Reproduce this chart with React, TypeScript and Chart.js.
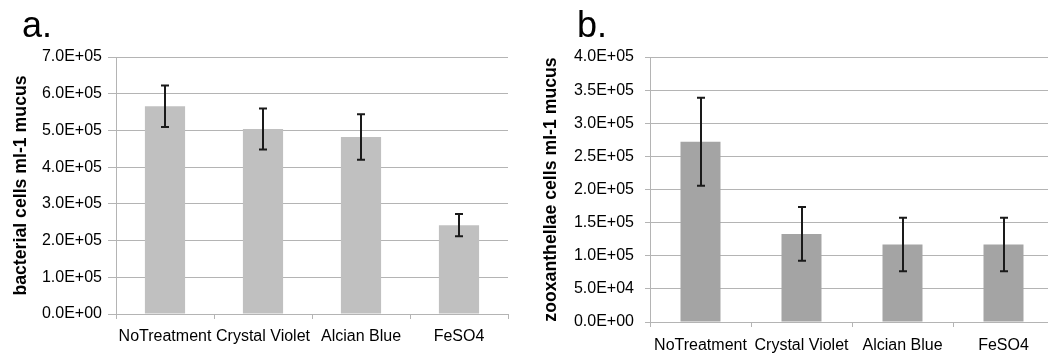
import React, { useEffect, useRef } from "react";
import { Chart, registerables } from "chart.js";

Chart.register(...registerables);

const categories = ["NoTreatment", "Crystal Violet", "Alcian Blue", "FeSO4"];
const bacteriaMeans = [566000, 504000, 482000, 242000];
const bacteriaErrors = [56500, 56000, 62000, 30500];
const zooxMeans = [272000, 133000, 117000, 117000];
const zooxErrors = [66500, 40500, 40500, 40500];

const bacteriaTicks = { max: 700000, step: 100000 };
const zooxTicks = { max: 400000, step: 50000 };

const FONT = "'Liberation Sans', Arial, Helvetica, sans-serif";
const GRID = "#b4b4b4";

function sci(v: number): string {
  if (v === 0) return "0.0E+00";
  const exp = Math.floor(Math.log10(Math.abs(v)) + 1e-9);
  const m = v / Math.pow(10, exp);
  const e = Math.abs(exp).toString().padStart(2, "0");
  return m.toFixed(1) + "E" + (exp >= 0 ? "+" : "-") + e;
}

function errorBarPlugin(errors: number[]) {
  return {
    id: "errbars",
    afterDatasetsDraw(chart: any) {
      const meta = chart.getDatasetMeta(0);
      const ys = chart.scales.y;
      const ctx = chart.ctx;
      const vals = chart.data.datasets[0].data as number[];
      ctx.save();
      ctx.strokeStyle = "#1a1a1a";
      ctx.lineWidth = 2;
      meta.data.forEach((bar: any, i: number) => {
        const x = Math.round(bar.x);
        const top = ys.getPixelForValue(vals[i] + errors[i]);
        const bot = ys.getPixelForValue(vals[i] - errors[i]);
        ctx.beginPath();
        ctx.moveTo(x, top);
        ctx.lineTo(x, bot);
        ctx.moveTo(x - 4, top);
        ctx.lineTo(x + 4, top);
        ctx.moveTo(x - 4, bot);
        ctx.lineTo(x + 4, bot);
        ctx.stroke();
      });
      ctx.restore();
    },
  };
}

function labelPlugin(text: string, x: number, y: number) {
  return {
    id: "panellabel",
    afterDraw(chart: any) {
      const ctx = chart.ctx;
      ctx.save();
      ctx.fillStyle = "#000";
      ctx.font = `36px ${FONT}`;
      ctx.textBaseline = "alphabetic";
      ctx.textAlign = "left";
      ctx.fillText(text, x, y);
      ctx.restore();
    },
  };
}

interface PanelProps {
  width: number;
  height: number;
  means: number[];
  errors: number[];
  color: string;
  yMax: number;
  yStep: number;
  yTitle: string;
  label: string;
  labelX: number;
  labelY: number;
  axisWidth: number;
  padRight: number;
  padTop: number;
  xAxisHeight: number;
  yTickLen: number;
  yTickPad: number;
  xTickPad: number;
  titlePad: number;
  barPct: number;
}

function Panel(p: PanelProps) {
  const ref = useRef<HTMLCanvasElement>(null);
  useEffect(() => {
    if (!ref.current) return;
    const chart = new Chart(ref.current, {
      type: "bar",
      data: {
        labels: categories,
        datasets: [
          {
            data: p.means,
            backgroundColor: p.color,
            borderWidth: 0,
            barPercentage: p.barPct,
            categoryPercentage: 1,
          },
        ],
      },
      options: {
        animation: false,
        responsive: false,
        events: [],
        layout: { padding: { top: p.padTop, right: p.padRight, left: 0, bottom: 0 } },
        plugins: { legend: { display: false }, tooltip: { enabled: false } },
        scales: {
          x: {
            type: "category",
            offset: true,
            grid: {
              display: true,
              drawOnChartArea: false,
              offset: true,
              tickLength: 5,
              color: GRID,
            },
            border: { display: true, color: GRID, width: 1 },
            ticks: {
              color: "#000",
              padding: p.xTickPad,
              font: { family: FONT, size: 16 },
              maxRotation: 0,
              autoSkip: false,
            },
            afterFit(scale: any) {
              scale.height = p.xAxisHeight;
            },
          },
          y: {
            min: 0,
            max: p.yMax,
            grid: { color: GRID, tickLength: p.yTickLen, lineWidth: 1 },
            border: { display: true, color: GRID, width: 1 },
            ticks: {
              stepSize: p.yStep,
              color: "#000",
              padding: p.yTickPad,
              font: { family: FONT, size: 16 },
              callback: (v: any) => sci(Number(v)),
            },
            title: {
              display: true,
              text: p.yTitle,
              color: "#000",
              font: { family: FONT, size: 17.7, weight: "bold" },
              padding: { top: p.titlePad, bottom: 0 },
            },
            afterFit(scale: any) {
              scale.width = p.axisWidth;
            },
          },
        },
      },
      plugins: [errorBarPlugin(p.errors), labelPlugin(p.label, p.labelX, p.labelY)],
    } as any);
    return () => chart.destroy();
  }, []);
  return (
    <canvas
      ref={ref}
      width={p.width}
      height={p.height}
      style={{ width: p.width, height: p.height, display: "block" }}
    />
  );
}

export default function App() {
  return (
    <div
      style={{
        position: "fixed",
        left: 0,
        top: 0,
        width: 1048,
        height: 353,
        overflow: "hidden",
        background: "#fff",
      }}
    >
      <div style={{ position: "absolute", left: 0, top: 0 }}>
        <Panel
          width={520}
          height={353}
          means={bacteriaMeans}
          errors={bacteriaErrors}
          color="#c0c0c0"
          yMax={bacteriaTicks.max}
          yStep={bacteriaTicks.step}
          yTitle="bacterial cells ml-1 mucus"
          label="a."
          labelX={22}
          labelY={37}
          axisWidth={116}
          padRight={12}
          padTop={57}
          xAxisHeight={39}
          yTickLen={8}
          yTickPad={6}
          xTickPad={8}
          titlePad={10}
          barPct={0.41}
        />
      </div>
      <div style={{ position: "absolute", left: 520, top: 0 }}>
        <Panel
          width={540}
          height={353}
          means={zooxMeans}
          errors={zooxErrors}
          color="#a4a4a4"
          yMax={zooxTicks.max}
          yStep={zooxTicks.step}
          yTitle="zooxanthellae cells ml-1 mucus"
          label="b."
          labelX={57}
          labelY={37}
          axisWidth={130}
          padRight={6}
          padTop={57}
          xAxisHeight={31}
          yTickLen={5}
          yTickPad={11}
          xTickPad={9}
          titlePad={20}
          barPct={0.396}
        />
      </div>
    </div>
  );
}
